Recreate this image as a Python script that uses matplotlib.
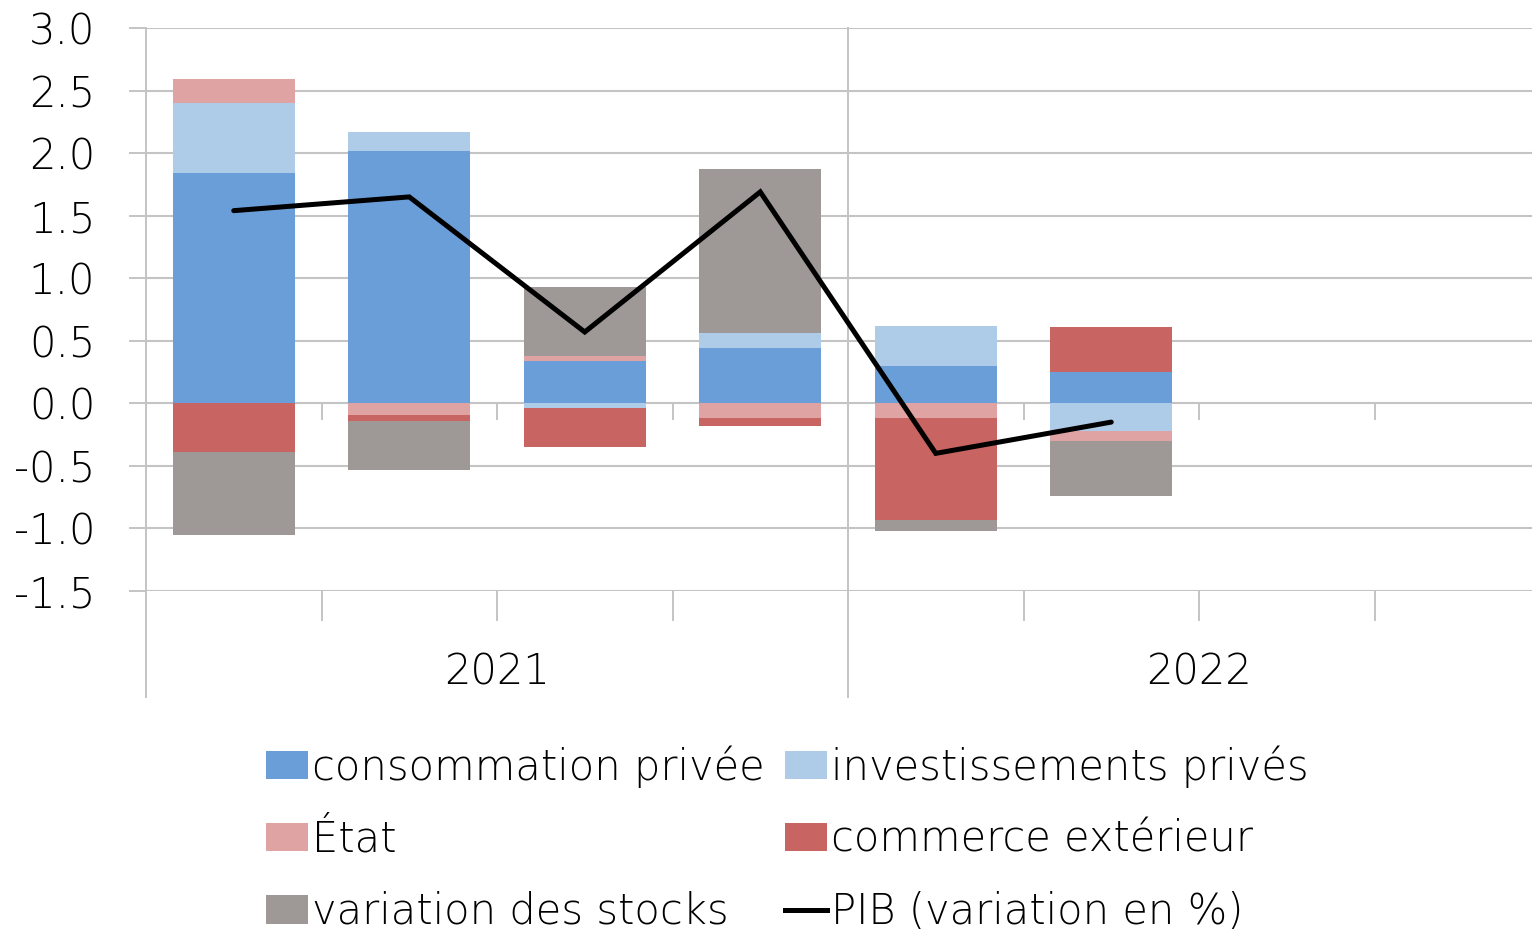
import matplotlib.pyplot as plt
from matplotlib.patches import Patch
from matplotlib.lines import Line2D
import numpy as np

plt.rcParams['font.family'] = ['DejaVu Sans']
plt.rcParams['font.weight'] = 'light'

# contributions à la croissance du PIB, par trimestre (points de %)
quarters = ['T1 2021', 'T2 2021', 'T3 2021', 'T4 2021', 'T1 2022', 'T2 2022']
years = ['2021', '2022']
consommation = [1.84, 2.02, 0.34, 0.44, 0.30, 0.25]
investissements = [0.56, 0.15, -0.04, 0.12, 0.32, -0.22]
etat = [0.19, -0.09, 0.04, -0.12, -0.12, -0.08]
commerce = [-0.39, -0.05, -0.31, -0.06, -0.81, 0.36]
stocks = [-0.66, -0.39, 0.55, 1.31, -0.09, -0.44]
pib = [1.54, 1.65, 0.57, 1.69, -0.40, -0.15]

series = [
    ('consommation privée', consommation, '#6a9ed9'),
    ('investissements privés', investissements, '#aecbe8'),
    ('État', etat, '#e0a3a3'),
    ('commerce extérieur', commerce, '#c86461'),
    ('variation des stocks', stocks, '#9e9997'),
]
grid_col = '#c4c4c4'
fs = 30

fig = plt.figure(figsize=(15.32, 9.32), dpi=100)
ax = fig.add_axes([146 / 1532, 1 - 591 / 932, 1404 / 1532, 563 / 932])

n_slots = 8
x = np.arange(len(quarters)) + 0.5
pos_bottom = np.zeros(len(quarters))
neg_bottom = np.zeros(len(quarters))
for name, vals, col in series:
    v = np.array(vals)
    bottom = np.where(v >= 0, pos_bottom, neg_bottom)
    ax.bar(x, v, width=0.695, bottom=bottom, color=col, zorder=2, linewidth=0)
    pos_bottom += np.clip(v, 0, None)
    neg_bottom += np.clip(v, None, 0)

ax.plot(x, pib, color='black', lw=3.6, zorder=4, solid_joinstyle='miter',
        solid_capstyle='round')

ax.set_xlim(0, n_slots)
ax.set_ylim(-1.5, 3.0)
yt = np.arange(-1.5, 3.01, 0.5)
ax.set_yticks(yt)
ax.set_yticklabels([f'{t:.1f}' for t in yt])
ax.tick_params(axis='y', length=12.5, width=1.4, color=grid_col, pad=24,
               labelsize=fs)
ax.set_xticks([])
ax.grid(axis='y', color=grid_col, lw=1.5, zorder=0)
for s in ax.spines.values():
    s.set_visible(False)

# séparateurs des années et des trimestres
trans = ax.get_xaxis_transform()
for xb in [0, 4]:
    ax.plot([xb, xb], [1, -0.188], transform=trans, color=grid_col, lw=1.4,
            clip_on=False, zorder=1)
for xb in [1, 2, 3, 5, 6, 7]:
    ax.plot([xb, xb], [0, -0.052], transform=trans, color=grid_col, lw=1.4,
            clip_on=False, zorder=1)
    ax.plot([xb, xb], [1 / 3, 1 / 3 - 0.027], transform=trans, color=grid_col,
            lw=1.4, clip_on=False, zorder=1)

for i, yr in enumerate(years):
    ax.text(2 + 4 * i, -0.143, yr, transform=trans, ha='center', va='center',
            fontsize=fs)

handles = [Patch(facecolor=c, label=n) for n, _, c in series]
handles.append(Line2D([], [], color='black', lw=3.6, label='PIB (variation en %)'))
order = [0, 2, 4, 1, 3, 5]
fig.legend([handles[i] for i in order], [handles[i].get_label() for i in order],
           loc='upper left', bbox_to_anchor=(266 / 1532, 1 - 745 / 932),
           ncol=2, frameon=False, fontsize=fs, handlelength=1.0,
           handleheight=0.67, handletextpad=0.1, labelspacing=0.75,
           columnspacing=0.5, borderpad=0, borderaxespad=0)

fig.savefig('out.png', dpi=100)
